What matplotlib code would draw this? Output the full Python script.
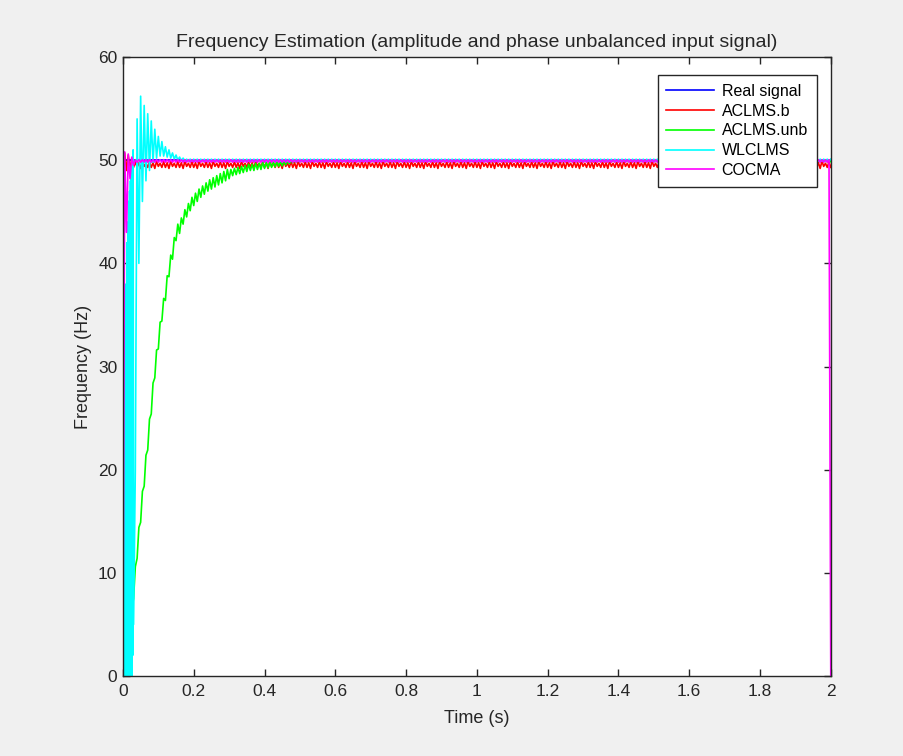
import numpy as np
import matplotlib
matplotlib.use('Agg')
import matplotlib.pyplot as plt

plt.rcParams['font.family'] = ['Liberation Sans', 'DejaVu Sans']

T_END = 2.0
DT = 0.005  # main sample step (200 Hz)

# each estimator: start-up samples (with their own step), then one
# steady-state ripple cycle that repeats up to the end of the record
real_start, real_step = [50.0], DT
real_cycle = [50.0]

aclms_b_start, aclms_b_step = [50.0, 50.7, 49.0, 50.5, 49.1, 50.2, 49.3], DT
aclms_b_cycle = [49.85, 49.3, 49.75, 49.2, 49.9, 49.4, 49.7, 49.3]

aclms_unb_step = DT
aclms_unb_start = [0.0, 0.6, 0.8, 2.9, 3.5, 6.5, 7.5, 10.6, 11.4, 14.4,
                   14.9, 17.9, 18.4, 21.4, 21.9, 24.9, 25.4, 28.4, 28.9, 31.6,
                   31.7, 34.3, 34.4, 36.6, 36.4, 38.8, 38.7, 40.8, 40.4, 42.5,
                   42.2, 43.8, 42.9, 44.4, 43.8, 45.2, 44.5, 45.8, 45.1, 46.4,
                   45.6, 46.8, 46.0, 47.2, 46.4, 47.5, 46.7, 47.8, 47.0, 48.1,
                   47.2, 48.3, 47.4, 48.5, 47.6, 48.7, 47.8, 48.9, 48.0, 49.1,
                   48.2, 49.1, 48.5, 49.2, 48.6, 49.3, 48.7, 49.4, 48.8, 49.5,
                   48.9, 49.6, 49.0, 49.6, 49.0, 49.7, 49.1, 49.7, 49.1, 49.8,
                   49.2, 49.8, 49.25, 49.85, 49.3, 49.85, 49.35, 49.9, 49.4, 49.9,
                   49.45, 49.95, 49.55, 49.95, 49.65, 50.0, 49.75, 50.0, 49.8]
aclms_unb_cycle = [50.0, 49.85]

# WLCLMS swings hard during the first 30 ms, logged at 1.25 ms
wlclms_fast_step = 0.00125
wlclms_fast = [0.0, 20.0, 0.0, 28.0, 0.0, 34.0, 0.0, 38.0, 0.0, 42.0,
               0.0, 44.0, 0.0, 46.0, 0.0, 47.0, 0.0, 48.0, 0.0, 49.0,
               0.0, 50.0, 2.0, 51.0, 5.0]
wlclms_start = [20.0, 54.0, 40.0, 56.2, 46.0, 55.3, 48.0, 54.5, 49.0, 53.8,
                49.8, 53.0, 50.2, 52.3, 50.4, 51.8, 50.4, 51.3, 50.3, 51.0,
                50.2, 50.7, 50.1, 50.5, 50.0, 50.3, 49.95, 50.2]
wlclms_cycle = [49.9, 50.1]

cocma_start, cocma_step = [0.0, 50.8, 43.0, 50.6, 48.2, 50.3, 49.5], DT
cocma_cycle = [50.05, 49.8]
cocma_end = [0.0]


def build(start, step, cycle, end=(), fast=(), fast_step=None):
    """Start-up samples, repeated ripple cycle, optional final samples."""
    tt, yy = [], []
    t0 = 0.0
    if len(fast):
        tt.append(np.arange(len(fast)) * fast_step)
        yy.append(np.asarray(fast, float))
        t0 = tt[-1][-1] + DT
    tt.append(t0 + np.arange(len(start)) * step)
    yy.append(np.asarray(start, float))
    t1 = tt[-1][-1] + DT
    n_mid = int(round((T_END - t1) / DT)) + 1 - len(end)
    tt.append(t1 + np.arange(n_mid) * DT)
    yy.append(np.resize(cycle, n_mid))
    if len(end):
        tt.append(T_END - np.arange(len(end))[::-1] * DT)
        yy.append(np.asarray(end, float))
    return np.concatenate(tt), np.concatenate(yy)


series = [
    ('Real signal', build(real_start, real_step, real_cycle), (0, 0, 1)),
    ('ACLMS.b', build(aclms_b_start, aclms_b_step, aclms_b_cycle), (1, 0, 0)),
    ('ACLMS.unb', build(aclms_unb_start, aclms_unb_step, aclms_unb_cycle), (0, 1, 0)),
    ('WLCLMS', build(wlclms_start, DT, wlclms_cycle,
                     fast=wlclms_fast, fast_step=wlclms_fast_step), (0, 1, 1)),
    ('COCMA', build(cocma_start, cocma_step, cocma_cycle, cocma_end), (1, 0, 1)),
]

fig = plt.figure(figsize=(9.04, 7.56), dpi=100, facecolor='#f0f0f0')
ax = fig.add_axes([0.136, 0.1058, 0.783, 0.8188])

for name, (x, y), col in series:
    ax.plot(x, y, color=col, lw=1.2, label=name)

ax.set_xlim(0, 2)
ax.set_ylim(0, 60)
ax.set_xticks(np.arange(0, 2.01, 0.2))
ax.set_xticklabels(['0', '0.2', '0.4', '0.6', '0.8', '1', '1.2', '1.4', '1.6', '1.8', '2'])
ax.set_yticks(np.arange(0, 61, 10))

dark = '#262626'
ax.tick_params(direction='in', top=True, right=True, length=5, width=1.0,
               colors=dark, labelsize=12.5, pad=4)
ax.tick_params(axis='x', pad=6)
for s in ax.spines.values():
    s.set_color(dark)
    s.set_linewidth(1.0)

ax.set_title('Frequency Estimation (amplitude and phase unbalanced input signal)',
             fontsize=14, color=dark, pad=7)
ax.set_xlabel('Time (s)', fontsize=13, color=dark, labelpad=8)
ax.set_ylabel('Frequency (Hz)', fontsize=13, color=dark, labelpad=4)

leg = ax.legend(loc='upper right', bbox_to_anchor=(0.980, 0.971), borderaxespad=0,
                fontsize=11.5, fancybox=False, framealpha=1, edgecolor=dark,
                handlelength=3.0, handletextpad=0.45, labelspacing=0.3,
                borderpad=0.55)
leg.get_frame().set_linewidth(1.0)

fig.savefig('out.png', dpi=100, facecolor=fig.get_facecolor())
